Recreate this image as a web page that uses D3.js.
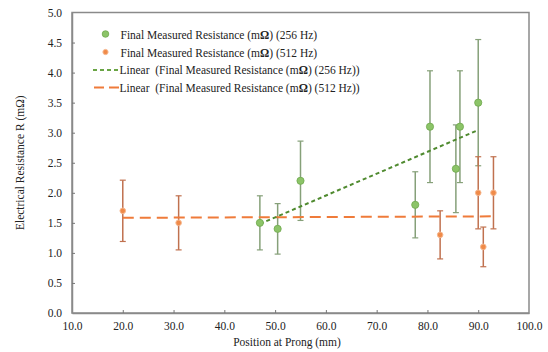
<!DOCTYPE html>
<html><head><meta charset="utf-8">
<script src="https://cdn.jsdelivr.net/npm/d3@7"></script>
<style>
html,body{margin:0;padding:0;background:#fff;}
svg text{font-family:"Liberation Serif","DejaVu Serif",serif !important;fill:#222;white-space:pre;}
</style></head>
<body><svg id="c" width="548" height="352"></svg>
<script>
// Data
const xTicks = [10,20,30,40,50,60,70,80,90,100];
const yTicks = [0,0.5,1,1.5,2,2.5,3,3.5,4,4.5,5];
const pos256 = [47, 50.5, 55, 77.6, 80.5, 85.6, 86.4, 90];
const res256 = [1.5, 1.4, 2.2, 1.8, 3.1, 2.4, 3.1, 3.5];
const err256 = [0.45, 0.42, 0.66, 0.55, 0.93, 0.73, 0.93, 1.05];
const pos512 = [20, 31, 82.5, 90, 91, 93];
const res512 = [1.7, 1.5, 1.3, 2.0, 1.1, 2.0];
const err512 = [0.51, 0.45, 0.4, 0.6, 0.33, 0.6];
const legendLabels = [
  ["Final Measured Resistance (m","Ω",") (256 Hz)"],
  ["Final Measured Resistance (m","Ω",") (512 Hz)"],
  ["Linear\u00a0 (Final Measured Resistance (m","Ω",") (256 Hz))"],
  ["Linear\u00a0 (Final Measured Resistance (m","Ω",") (512 Hz))"]
];

const FONT = "Liberation Serif";
const svg = d3.select("#c");
const L=72, R=529, T=12.5, B=313;
const x = d3.scaleLinear().domain([10,100]).range([L,R]);
const y = d3.scaleLinear().domain([0,5]).range([B,T]);

// frame
svg.append("rect").attr("x",L).attr("y",T).attr("width",R-L).attr("height",B-T)
  .attr("fill","none").attr("stroke","#8a8a8a").attr("stroke-width",1.5);

// axes
const xa = svg.append("g").attr("transform",`translate(0,${B})`)
  .call(d3.axisBottom(x).tickValues(xTicks).tickFormat(d3.format(".1f")).tickSizeInner(-3).tickSizeOuter(0).tickPadding(9));
const ya = svg.append("g").attr("transform",`translate(${L},0)`)
  .call(d3.axisLeft(y).tickValues(yTicks).tickFormat(d3.format(".1f")).tickSizeInner(-3).tickSizeOuter(0).tickPadding(11));
[xa,ya].forEach(g=>{
  g.attr("font-family",FONT);
  g.select(".domain").attr("stroke","#8a8a8a").attr("stroke-width",1.5);
  g.selectAll(".tick line").attr("stroke","#777");
  g.selectAll(".tick text").attr("font-size",11.5).attr("fill","#222");
});
ya.selectAll(".tick text").attr("x",-10);
ya.selectAll(".tick").filter(d=>d===0||d===5).select("line").remove();
xa.selectAll(".tick").filter(d=>d===10||d===100).select("line").remove();

// axis titles
svg.append("text").attr("x",287).attr("y",346).attr("text-anchor","middle").attr("font-size",11.5).text("Position at Prong (mm)");
svg.append("text").attr("transform",`translate(24,${(T+B)/2}) rotate(-90)`).attr("text-anchor","middle").attr("font-size",11.5)
  .text("Electrical Resistance R (mΩ)");

// regression
function fit(xs, ys){
  const mx=d3.mean(xs), my=d3.mean(ys);
  let sxy=0,sxx=0; xs.forEach((v,i)=>{sxy+=(v-mx)*(ys[i]-my); sxx+=(v-mx)*(v-mx);});
  const b=sxy/sxx, a=my-b*mx; return v=>a+b*v;
}

function errBars(xs, ys, es, color){
  const g=svg.append("g");
  xs.forEach((v,i)=>{
    const cx=x(v), y1=y(ys[i]+es[i]), y2=y(ys[i]-es[i]);
    g.append("line").attr("x1",cx).attr("x2",cx).attr("y1",y1).attr("y2",y2).attr("stroke",color).attr("stroke-width",1.5);
    [y1,y2].forEach(yy=>g.append("line").attr("x1",cx-3).attr("x2",cx+3).attr("y1",yy).attr("y2",yy).attr("stroke",color).attr("stroke-width",1.2));
  });
}
errBars(pos256,res256,err256,"#86a079");
errBars(pos512,res512,err512,"#c0714f");

// trend lines
const f256=fit(pos256,res256), f512=fit(pos512,res512);
const ext256=d3.extent(pos256), ext512=d3.extent(pos512);
svg.append("line").attr("x1",x(ext512[0])).attr("x2",x(ext512[1])).attr("y1",y(f512(ext512[0]))).attr("y2",y(f512(ext512[1])))
  .attr("stroke","#ef7b3a").attr("stroke-width",2).attr("stroke-dasharray","11,6");
svg.append("line").attr("x1",x(ext256[0])).attr("x2",x(ext256[1])).attr("y1",y(f256(ext256[0]))).attr("y2",y(f256(ext256[1])))
  .attr("stroke","#4f8a2f").attr("stroke-width",2).attr("stroke-dasharray","4,3");

// points
svg.append("g").selectAll("circle").data(pos256).join("circle")
  .attr("cx",d=>x(d)).attr("cy",(d,i)=>y(res256[i])).attr("r",3.6)
  .attr("fill","#8cc468").attr("stroke","#6fa84c").attr("stroke-width",0.8);
svg.append("g").selectAll("circle").data(pos512).join("circle")
  .attr("cx",d=>x(d)).attr("cy",(d,i)=>y(res512[i])).attr("r",2.8)
  .attr("fill","#f08a48").attr("stroke","#f6b890").attr("stroke-width",1);

// legend
const lg=svg.append("g");
const rowsY=[35,52.5,70,87.5];
lg.append("circle").attr("cx",105.5).attr("cy",rowsY[0]-1).attr("r",3.3).attr("fill","#8cc468").attr("stroke","#6fa84c").attr("stroke-width",0.8);
lg.append("circle").attr("cx",105.5).attr("cy",rowsY[1]-0.5).attr("r",2.6).attr("fill","#f08a48").attr("stroke","#f6b890").attr("stroke-width",1);
lg.append("line").attr("x1",93).attr("x2",119).attr("y1",rowsY[2]).attr("y2",rowsY[2]).attr("stroke","#6aa545").attr("stroke-width",1.8).attr("stroke-dasharray","4,3");
lg.append("line").attr("x1",94).attr("x2",119).attr("y1",rowsY[3]).attr("y2",rowsY[3]).attr("stroke","#ef7b3a").attr("stroke-width",1.8).attr("stroke-dasharray","10,5");
legendLabels.forEach((parts,i)=>{
  const t=lg.append("text").attr("x",i<2?120.5:119.5).attr("y",rowsY[i]+4).attr("font-size",11.5);
  t.append("tspan").text(parts[0]);
  t.append("tspan").attr("font-weight","bold").text(parts[1]);
  t.append("tspan").text(parts[2]);
});
</script></body></html>
